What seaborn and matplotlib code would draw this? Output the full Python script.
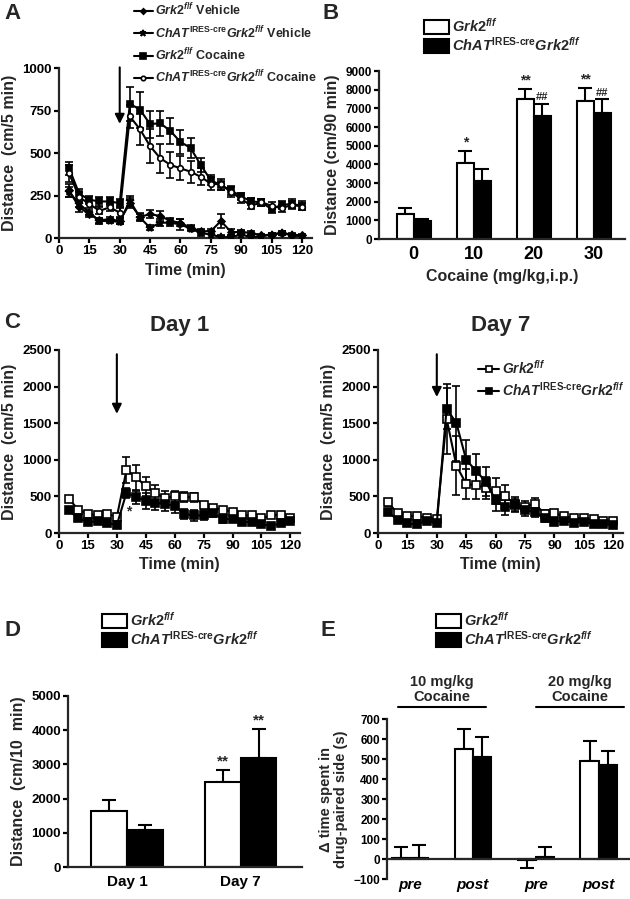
import numpy as np
import pandas as pd
import matplotlib
matplotlib.use('Agg')
import matplotlib.pyplot as plt
import seaborn as sns
from matplotlib.patches import Patch


# ---- data ----
time = [5, 10, 15, 20, 25, 30, 35, 40, 45, 50, 55, 60,
        65, 70, 75, 80, 85, 90, 95, 100, 105, 110, 115, 120]

# panel A
a_wt_veh = [280, 180, 140, 105, 110, 100, 205, 125, 140, 130, 100, 90,
            60, 40, 40, 100, 35, 35, 30, 15, 20, 30, 20, 15]
a_wt_veh_err = [40, 25, 15, 15, 15, 15, 30, 20, 25, 30, 20, 20,
                15, 15, 15, 40, 20, 15, 10, 10, 10, 10, 10, 10]
a_ko_veh = [270, 200, 150, 100, 100, 95, 220, 120, 60, 90, 90, 80,
            55, 30, 20, 5, 5, 20, 5, 10, 20, 30, 15, 10]
a_ko_veh_err = [30, 20, 15, 15, 10, 15, 30, 20, 15, 20, 20, 30,
                15, 20, 20, 10, 10, 20, 10, 10, 10, 10, 10, 10]
a_wt_coc = [410, 260, 225, 215, 215, 205, 790, 755, 670, 675, 630, 565,
            530, 430, 340, 310, 280, 245, 215, 210, 170, 195, 200, 190]
a_wt_coc_err = [40, 30, 25, 25, 25, 25, 100, 105, 80, 75, 75, 70,
                60, 40, 30, 25, 25, 20, 20, 20, 20, 25, 30, 25]
a_ko_coc = [380, 240, 200, 160, 180, 150, 715, 640, 540, 470, 430, 410,
            390, 360, 320, 315, 270, 230, 190, 210, 190, 175, 195, 185]
a_ko_coc_err = [50, 30, 25, 20, 20, 25, 70, 90, 100, 85, 75, 70,
                65, 50, 40, 30, 30, 25, 20, 20, 20, 20, 20, 20]

# panel B
doses = ['0', '10', '20', '30']
b_wt = [1350, 4050, 7500, 7400]
b_wt_err = [300, 650, 550, 700]
b_ko = [950, 3100, 6600, 6750]
b_ko_err = [100, 650, 650, 750]

# panel C
d1_wt = [470, 320, 260, 240, 260, 220, 860, 760, 640, 540, 480, 500,
         490, 490, 380, 340, 320, 290, 240, 240, 200, 240, 250, 210]
d1_wt_err = [30, 30, 30, 30, 30, 30, 180, 170, 130, 110, 90, 80,
             70, 60, 50, 40, 40, 40, 30, 30, 30, 30, 30, 30]
d1_ko = [310, 200, 150, 160, 140, 110, 550, 490, 440, 410, 400, 370,
         260, 240, 240, 270, 190, 190, 150, 150, 120, 100, 130, 170]
d1_ko_err = [30, 30, 30, 30, 30, 30, 70, 90, 110, 100, 100, 90,
             70, 70, 60, 50, 50, 40, 40, 30, 30, 30, 30, 30]
d7_wt = [420, 270, 230, 230, 210, 190, 1560, 920, 670, 650, 620, 570,
         500, 390, 360, 400, 260, 270, 230, 200, 200, 190, 170, 170]
d7_wt_err = [50, 40, 30, 30, 30, 30, 480, 400, 200, 180, 150, 180,
             160, 100, 80, 80, 50, 50, 40, 40, 40, 40, 30, 30]
d7_ko = [290, 180, 130, 120, 170, 130, 1700, 1500, 1000, 850, 700, 450,
         350, 380, 310, 290, 200, 150, 170, 140, 150, 120, 120, 110]
d7_ko_err = [40, 30, 30, 30, 30, 30, 280, 510, 270, 230, 200, 150,
             100, 80, 80, 70, 50, 40, 40, 40, 40, 40, 30, 30]

# panel D
days = ['Day 1', 'Day 7']
d_wt = [1650, 2500]
d_wt_err = [320, 330]
d_ko = [1070, 3200]
d_ko_err = [150, 830]

# panel E
phases = ['pre10', 'post10', 'pre20', 'post20']
phase_labels = ['pre', 'post', 'pre', 'post']
e_wt = [5, 550, -5, 490]
e_wt_err = [55, 100, 40, 100]
e_ko = [5, 510, 10, 470]
e_ko_err = [65, 100, 50, 70]

WT = r'$\mathit{Grk2}^{\mathit{f/f}}$'
KO = r'$\mathit{ChAT}^{\mathrm{IRES}\text{-}\mathrm{cre}}\mathit{Grk2}^{\mathit{f/f}}$'


# ---- style ----
sns.set_theme(style='ticks')
plt.rcParams['font.family'] = ['Liberation Sans', 'DejaVu Sans']
plt.rcParams['font.weight'] = 'bold'
plt.rcParams['axes.labelweight'] = 'bold'
plt.rcParams['axes.titleweight'] = 'bold'
plt.rcParams['mathtext.fontset'] = 'custom'
plt.rcParams['mathtext.rm'] = 'Liberation Sans:bold'
plt.rcParams['mathtext.it'] = 'Liberation Sans:italic:bold'
plt.rcParams['mathtext.bf'] = 'Liberation Sans:bold'
plt.rcParams['axes.linewidth'] = 1.6
plt.rcParams['xtick.major.width'] = 1.6
plt.rcParams['ytick.major.width'] = 1.6
plt.rcParams['xtick.major.size'] = 3.5
plt.rcParams['ytick.major.size'] = 3.5
plt.rcParams['xtick.color'] = 'black'
plt.rcParams['ytick.color'] = 'black'

W, H = 630, 899
fig = plt.figure(figsize=(W / 100, H / 100), dpi=100)


def px_axes(x0, y_top, x1, y_bot):
    return fig.add_axes([x0 / W, 1 - y_bot / H, (x1 - x0) / W, (y_bot - y_top) / H])


def style_axes(ax):
    sns.despine(ax=ax)
    ax.tick_params(labelsize=9.5, pad=1.5)
    for lab in ax.get_xticklabels() + ax.get_yticklabels():
        lab.set_fontweight('bold')


def line_series(ax, y, err, marker, ms, face, label):
    sns.lineplot(x=time, y=y, ax=ax, color='black', linewidth=1.5, marker=marker,
                 markersize=ms, markerfacecolor=face, markeredgecolor='black',
                 markeredgewidth=1.2, label=label, errorbar=None, zorder=3)
    ax.errorbar(time, y, yerr=err, fmt='none', ecolor='black', elinewidth=1.2,
                capsize=3, capthick=1.2, zorder=2)


def bar_errors(ax, means, errs, hue_idx):
    bars = ax.containers[hue_idx]
    xs = [b.get_x() + b.get_width() / 2 for b in bars]
    lower = [e if m < 0 else 0 for m, e in zip(means, errs)]
    upper = [0 if m < 0 else e for m, e in zip(means, errs)]
    ax.errorbar(xs, means, yerr=[lower, upper], fmt='none', ecolor='black',
                elinewidth=1.5, capsize=5, capthick=1.5, zorder=1)
    return xs


def bar_panel(ax, cats, wt, wt_err, ko, ko_err, width):
    df = pd.DataFrame({'cat': cats * 2, 'mean': wt + ko,
                       'geno': ['wt'] * len(cats) + ['ko'] * len(cats)})
    sns.barplot(data=df, x='cat', y='mean', hue='geno', order=cats,
                hue_order=['wt', 'ko'], palette=['white', 'black'],
                edgecolor='black', linewidth=1.5, width=width, legend=False,
                errorbar=None, ax=ax, zorder=2)
    xw = bar_errors(ax, wt, wt_err, 0)
    xk = bar_errors(ax, ko, ko_err, 1)
    return xw, xk


def bar_legend(x, y):
    handles = [Patch(facecolor='white', edgecolor='black', linewidth=1.5),
               Patch(facecolor='black', edgecolor='black', linewidth=1.5)]
    fig.legend(handles, [WT, KO], loc='upper left', bbox_to_anchor=(x / W, 1 - y / H),
               frameon=False, fontsize=10.5, handlelength=1.7, handleheight=1.1,
               handletextpad=0.2, labelspacing=0.05, borderpad=0, borderaxespad=0)


# ---- A ----
axA = px_axes(59, 68, 312, 238)
line_series(axA, a_wt_veh, a_wt_veh_err, 'D', 3.5, 'black', WT + ' Vehicle')
line_series(axA, a_ko_veh, a_ko_veh_err, '*', 6, 'black', KO + ' Vehicle')
line_series(axA, a_wt_coc, a_wt_coc_err, 's', 5, 'black', WT + ' Cocaine')
line_series(axA, a_ko_coc, a_ko_coc_err, 'o', 4, 'white', KO + ' Cocaine')
hA, lA = axA.get_legend_handles_labels()
if axA.get_legend():
    axA.get_legend().remove()
axA.set_xlim(0, 125)
axA.set_ylim(0, 1000)
axA.set_xticks([0, 15, 30, 45, 60, 75, 90, 105, 120])
axA.set_yticks([0, 250, 500, 750, 1000])
axA.annotate('', xy=(30, 655), xytext=(30, 1020), annotation_clip=False,
             arrowprops=dict(arrowstyle='-|>', color='black', lw=1.5, mutation_scale=14))
axA.set_xlabel('Time (min)', fontsize=11.5)
axA.set_ylabel('Distance  (cm/5 min)', fontsize=11.5)
style_axes(axA)
fig.legend(hA, lA, loc='upper left', bbox_to_anchor=(134 / W, 1 - 2 / H), frameon=False,
           fontsize=9, handlelength=1.5, handletextpad=0.2, labelspacing=0.45,
           borderpad=0, borderaxespad=0, markerscale=0.8)

# ---- B ----
axB = px_axes(379, 71, 625, 239)
xw, xk = bar_panel(axB, doses, b_wt, b_wt_err, b_ko, b_ko_err, 0.57)
axB.set_xlim(-0.58, 3.52)
axB.set_ylim(0, 9000)
axB.set_yticks([0, 1000, 2000, 3000, 4000, 5000, 6000, 7000, 8000, 9000])
axB.set_xlabel('Cocaine (mg/kg,i.p.)', fontsize=11.5)
axB.set_ylabel('Distance (cm/90 min)', fontsize=11.5)
style_axes(axB)
axB.tick_params(axis='y', labelsize=8.5)
axB.tick_params(axis='x', length=0, labelsize=13, pad=5)
for i, s in [(1, '*'), (2, '**'), (3, '**')]:
    axB.text(xw[i], b_wt[i] + b_wt_err[i] + 80, s, ha='center', va='bottom', fontsize=10)
for i in [2, 3]:
    axB.text(xk[i], b_ko[i] + b_ko_err[i] + 80, '##', ha='center', va='bottom', fontsize=8)
bar_legend(424, 17)

# ---- C ----
axC1 = px_axes(59, 350, 300, 533)
line_series(axC1, d1_wt, d1_wt_err, 's', 6, 'white', WT)
line_series(axC1, d1_ko, d1_ko_err, 's', 6, 'black', KO)
axC7 = px_axes(378, 350, 623, 533)
line_series(axC7, d7_wt, d7_wt_err, 's', 6, 'white', WT)
line_series(axC7, d7_ko, d7_ko_err, 's', 6, 'black', KO)
for ax, title, head in [(axC1, 'Day 1', 1590), (axC7, 'Day 7', 1820)]:
    ax.set_xlim(0, 125)
    ax.set_ylim(0, 2500)
    ax.set_xticks([0, 15, 30, 45, 60, 75, 90, 105, 120])
    ax.set_yticks([0, 500, 1000, 1500, 2000, 2500])
    ax.annotate('', xy=(30, head), xytext=(30, 2480),
                arrowprops=dict(arrowstyle='-|>', color='black', lw=1.5, mutation_scale=14))
    ax.set_title(title, fontsize=16, pad=14)
    ax.set_xlabel('Time (min)', fontsize=11.5)
    ax.set_ylabel('Distance  (cm/5 min)', fontsize=11.5)
    style_axes(ax)
hC, lC = axC7.get_legend_handles_labels()
if axC1.get_legend():
    axC1.get_legend().remove()
axC7.legend(hC, lC, loc='upper left', bbox_to_anchor=(0.41, 0.95), frameon=False,
            fontsize=10, handlelength=1.5, handletextpad=0.2, labelspacing=0.3,
            borderpad=0, borderaxespad=0, markerscale=0.8)
axC1.text(36, 300, '*', ha='center', va='center', fontsize=10)

# ---- D ----
axD = px_axes(68, 696, 302, 867)
xw, xk = bar_panel(axD, days, d_wt, d_wt_err, d_ko, d_ko_err, 0.63)
axD.set_xlim(-0.52, 1.54)
axD.set_ylim(0, 5000)
axD.set_yticks([0, 1000, 2000, 3000, 4000, 5000])
axD.set_xlabel('')
axD.set_ylabel('Distance  (cm/10  min)', fontsize=11.5)
style_axes(axD)
axD.tick_params(axis='x', length=0, labelsize=11, pad=6)
axD.text(xw[1], d_wt[1] + d_wt_err[1] + 60, '**', ha='center', va='bottom', fontsize=11)
axD.text(xk[1], d_ko[1] + d_ko_err[1] + 60, '**', ha='center', va='bottom', fontsize=11)
bar_legend(102, 611)

# ---- E ----
axE = px_axes(387, 719, 630, 879)
bar_panel(axE, phases, e_wt, e_wt_err, e_ko, e_ko_err, 0.58)
axE.set_xlim(-0.37, 3.5)
axE.set_ylim(-100, 700)
axE.set_yticks([-100, 0, 100, 200, 300, 400, 500, 600, 700])
axE.spines['bottom'].set_position(('data', 0))
axE.set_xticks([0, 1, 2, 3])
axE.set_xticklabels(phase_labels)
axE.set_xlabel('')
axE.set_ylabel('\u0394 time spent in\ndrug-paired side (s)', fontsize=10.5, linespacing=1.1)
style_axes(axE)
axE.tick_params(axis='y', labelsize=8.5)
axE.tick_params(axis='x', length=0, labelsize=11, pad=14)
for lab in axE.get_xticklabels():
    lab.set_fontstyle('italic')
for (x0, x1), dose_txt in [((-0.2, 1.2), '10 mg/kg\nCocaine'), ((2.0, 3.4), '20 mg/kg\nCocaine')]:
    axE.plot([x0, x1], [760, 760], color='black', lw=1.5, clip_on=False)
    axE.text((x0 + x1) / 2, 775, dose_txt, ha='center', va='bottom',
             fontsize=10.5, linespacing=1.1)
bar_legend(436, 611)

# ---- panel letters ----
for letter, x, y in [('A', 4, 3), ('B', 322, 3), ('C', 4, 312), ('D', 4, 620), ('E', 320, 620)]:
    fig.text(x / W, 1 - y / H, letter, fontsize=16, fontweight='bold', va='top', ha='left')

fig.savefig('out.png', dpi=100)
